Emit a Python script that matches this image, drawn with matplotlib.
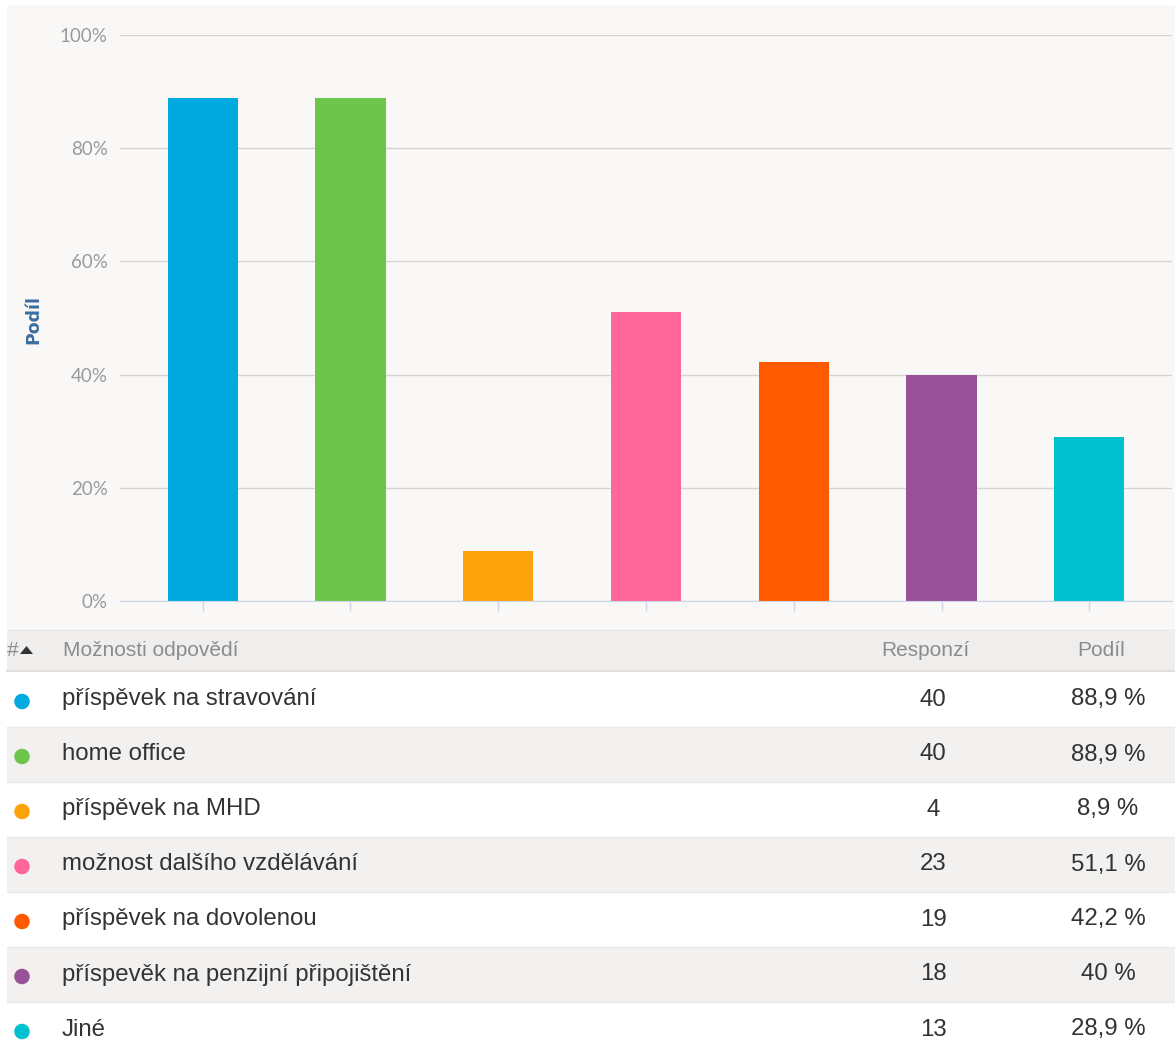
import matplotlib
matplotlib.use("Agg")
import matplotlib.pyplot as plt
from matplotlib.patches import Rectangle, Polygon

# Survey answers: share of respondents per employee benefit
categories = [
    "příspěvek na stravování",
    "home office",
    "příspěvek na MHD",
    "možnost dalšího vzdělávání",
    "příspěvek na dovolenou",
    "příspevěk na penzijní připojištění",
    "Jiné",
]
responses = [40, 40, 4, 23, 19, 18, 13]
shares = [88.9, 88.9, 8.9, 51.1, 42.2, 40.0, 28.9]
share_labels = ["88,9 %", "88,9 %", "8,9 %", "51,1 %", "42,2 %", "40 %", "28,9 %"]
colors = ["#00a9df", "#6dc54e", "#ffa30c", "#ff6699", "#ff5a00", "#985297", "#00c1cf"]
y_ticks = [0, 20, 40, 60, 80, 100]

W, H = 1175, 1050
fig = plt.figure(figsize=(W / 100, H / 100), dpi=100)
fig.patch.set_facecolor("white")

# Pixel-space overlay for panels and the table
bg = fig.add_axes([0, 0, 1, 1], zorder=0)
bg.set_xlim(0, W)
bg.set_ylim(H, 0)
bg.axis("off")
bg.add_patch(Rectangle((7, 5), W - 7, 623, facecolor="#f9f8f7", edgecolor="none"))

# Bar chart
left, right, top, base = 120, 1172, 35, 601
ax = fig.add_axes([left / W, (H - base) / H, (right - left) / W, (base - top) / H], zorder=1)
ax.set_facecolor("none")
x = list(range(len(categories)))
ax.bar(x, shares, width=0.475, color=colors, zorder=3)
ax.set_xlim(-0.56, len(categories) - 1 + 0.56)
ax.set_ylim(0, 100)
ax.set_yticks(y_ticks)
ax.set_yticklabels([f"{t}%" for t in y_ticks], color="#9a9a9a",
                   fontsize=13.5, family="Lato")
ax.set_xticks(x)
ax.set_xticklabels([])
ax.tick_params(axis="y", length=0, pad=9)
ax.tick_params(axis="x", length=7, color="#ccd6eb", width=1)
ax.grid(axis="y", color="#d6d4d1", linewidth=1, zorder=0)
for s in ["top", "right", "left"]:
    ax.spines[s].set_visible(False)
ax.spines["bottom"].set_color("#ccd6eb")
ax.spines["bottom"].set_zorder(4)

# Axis title, placed in pixel space
bg.text(33, 319, "Podíl", color="#3a6e9f", fontsize=12.5, fontweight="bold",
        family="DejaVu Sans", rotation=90, ha="center", va="center")

# Table header
bg.add_patch(Rectangle((7, 629), W - 7, 42, facecolor="#efeeed", edgecolor="none"))
bg.plot([7, W], [671, 671], color="#e2e0de", lw=1.5)
hdr_kw = dict(color="#8c8c8c", fontsize=15, family="Liberation Sans", va="center")
bg.text(7, 650, "#", **hdr_kw)
bg.add_patch(Polygon([[20, 654], [33, 654], [26.5, 646]], closed=True,
                     facecolor="#333333", edgecolor="none"))
bg.text(63, 650, "Možnosti odpovědí", **hdr_kw)
bg.text(925, 650, "Responzí", ha="center", **hdr_kw)
bg.text(1101, 650, "Podíl", ha="center", **hdr_kw)

# Table rows
row_h = 55
for i, (cat, n, lab, c) in enumerate(zip(categories, responses, share_labels, colors)):
    y0 = 672 + i * row_h
    yc = y0 + row_h / 2
    face = "white" if i % 2 == 0 else "#f2f1f0"
    bg.add_patch(Rectangle((7, y0), W - 7, row_h, facecolor=face, edgecolor="none"))
    bg.plot([7, W], [y0 + row_h, y0 + row_h], color="#ebeae8", lw=1)
    bg.scatter([22], [yc + 2], s=125, color=c, zorder=3, edgecolors="none")
    row_kw = dict(color="#333333", fontsize=17.3, family="Liberation Sans", va="center")
    bg.text(62, yc, cat, **row_kw)
    bg.text(933, yc, str(n), ha="center", **row_kw)
    bg.text(1108, yc, lab, ha="center", **row_kw)

fig.savefig("out.png", dpi=100, facecolor="white")
